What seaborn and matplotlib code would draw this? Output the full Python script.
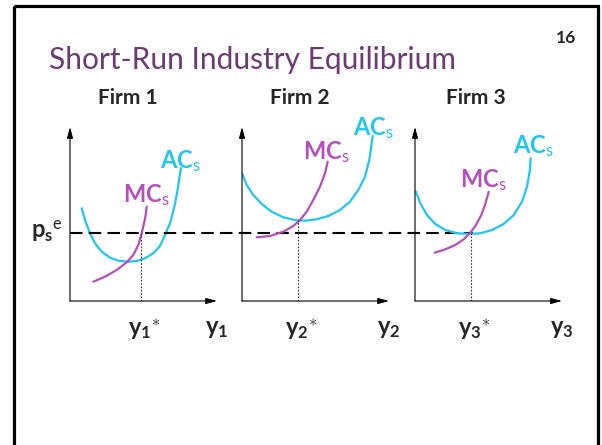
import numpy as np
import pandas as pd
import matplotlib
matplotlib.use("Agg")
import matplotlib.pyplot as plt
import seaborn as sns
from matplotlib.patches import Rectangle

# ---------------- data (local panel units: quantity, price) ----------------
firms = ["Firm 1", "Firm 2", "Firm 3"]
qty_labels = [r"$\mathbf{y}_\mathbf{1}{}^{\ast}$", r"$\mathbf{y}_\mathbf{2}{}^{\ast}$",
              r"$\mathbf{y}_\mathbf{3}{}^{\ast}$"]
axis_labels = [r"$\mathbf{y}_\mathbf{1}$", r"$\mathbf{y}_\mathbf{2}$", r"$\mathbf{y}_\mathbf{3}$"]

ac1_q = [11.7, 15, 20, 25, 31.7, 40, 48.3, 58.3, 66.7, 75, 83.3, 90, 95, 100, 104, 107.3, 109.3, 111]
ac1_p = [92.7, 81, 67.7, 57.7, 49.3, 43.3, 40.3, 39.3, 40, 42.7, 47.7, 55, 66, 77.7, 92.7, 109.3, 122.7, 133]
mc1_q = [23.3, 35, 46.7, 56.7, 63.3, 68.3, 71.7, 74, 75.7, 76.7]
mc1_p = [19.3, 24.3, 31, 38.7, 46, 56, 67.7, 77.7, 86, 94.3]

ac2_q = [0, 4.7, 11.3, 19.7, 29.7, 41.3, 53, 63, 74.7, 86.3, 98, 108, 116.3, 123, 127.3, 129.7, 130.7]
ac2_p = [127.7, 116, 106, 97, 89.3, 83.7, 81, 80.3, 81.7, 85, 91, 99.3, 111, 124.3, 141, 157.7, 165]
mc2_q = [14.7, 28, 41.3, 51.3, 58, 64.7, 71.3, 78, 83, 85.7]
mc2_p = [63.7, 65, 69.3, 75, 81, 89.3, 101, 114.3, 127.7, 139.3]

ac3_q = [1, 5.3, 12, 20.3, 30.3, 42, 53.7, 65.3, 77, 88.7, 98.7, 107, 112, 114.7, 115.7]
ac3_p = [109.3, 97.7, 86, 77, 71, 67.7, 67, 67.7, 71, 77, 86, 99.3, 114.3, 129.3, 142.7]
mc3_q = [19.7, 30.3, 40.3, 48.7, 55.3, 61, 66.3, 70.3, 73.7]
mc3_p = [48.3, 51.7, 56, 61.7, 68.3, 76, 86, 97, 109.3]

price_eq = 68              # p_s^e
q_star = [70.7, 56.3, 56]  # y_i^*
dotted_top = [68, 81, 68]

AC_COLOR = "#1ec6f0"
MC_COLOR = "#b54fbd"
TITLE_COLOR = "#6b3a72"

# ---------------- style ----------------
sns.set_theme(style="white")
plt.rcParams["font.family"] = ["Lato", "DejaVu Sans"]
plt.rcParams["mathtext.fontset"] = "custom"
plt.rcParams["mathtext.rm"] = "Lato"
plt.rcParams["mathtext.it"] = "Lato:italic"
plt.rcParams["mathtext.bf"] = "Lato:bold"

W, H = 602, 445
fig = plt.figure(figsize=(W / 100, H / 100), dpi=100)
fig.patch.set_facecolor("white")

bg = fig.add_axes([0, 0, 1, 1])
bg.set_xlim(0, W)
bg.set_ylim(H, 0)
bg.axis("off")
bg.add_patch(Rectangle((14, 6), 584, 460, fill=False, lw=2.3, ec="black", clip_on=False))
bg.text(49, 69, "Short-Run Industry Equilibrium", fontsize=21.5, fontweight="normal",
        color=TITLE_COLOR, ha="left", va="baseline")
bg.text(566, 43, "16", fontsize=12.5, fontweight="bold", ha="center", va="baseline")

origins = [70, 242, 415]
firm_centers = [128, 300, 476]
for name, cx in zip(firms, firm_centers):
    bg.text(cx, 104, name, fontsize=15, fontweight="bold", ha="center", va="baseline")

curves = [
    (ac1_q, ac1_p, mc1_q, mc1_p),
    (ac2_q, ac2_p, mc2_q, mc2_p),
    (ac3_q, ac3_p, mc3_q, mc3_p),
]
ac_label_pos = [(90, 140), (111, 173), (98, 155)]
mc_label_pos = [(53, 106), (61, 149), (45, 121)]

PW, PH = 150, 174
axes = []
for i, ox in enumerate(origins):
    ax = fig.add_axes([ox / W, (H - 301) / H, PW / W, PH / H])
    ax.set_xlim(0, PW)
    ax.set_ylim(0, PH)
    ax.axis("off")
    axes.append(ax)

    ap = dict(arrowstyle="-|>,head_length=0.55,head_width=0.15", lw=0.8,
              color="black", shrinkA=0, shrinkB=0)
    ax.annotate("", xy=(0, PH), xytext=(0, 0), arrowprops=ap, annotation_clip=False)
    ax.annotate("", xy=(147, 0), xytext=(0, 0), arrowprops=ap, annotation_clip=False)

    acq, acp, mcq, mcp = curves[i]
    sns.lineplot(x=acq, y=acp, sort=False, ax=ax, color=AC_COLOR, lw=1.6, legend=False)
    sns.lineplot(x=mcq, y=mcp, sort=False, ax=ax, color=MC_COLOR, lw=1.6, legend=False)

    ax.plot([q_star[i], q_star[i]], [0, dotted_top[i]], color="#333333",
            lw=0.8, ls=(0, (1.5, 1.5)))

    ax.text(*ac_label_pos[i], r"$\mathbf{AC}_\mathrm{s}$", color=AC_COLOR, fontsize=17,
            ha="left", va="center")
    ax.text(*mc_label_pos[i], r"$\mathbf{MC}_\mathrm{s}$", color=MC_COLOR, fontsize=17,
            ha="left", va="center")
    ax.text(q_star[i] + 3, -29, qty_labels[i], fontsize=17, ha="center", va="center",
            clip_on=False)
    ax.text(147, -29, axis_labels[i], fontsize=17, ha="center", va="center",
            clip_on=False)

axes[0].plot([0, 403], [price_eq, price_eq], color="black", lw=1.5,
             ls=(0, (6, 3)), clip_on=False)
axes[0].text(-7, price_eq + 2, r"$\mathbf{p}_\mathbf{s}{}^\mathrm{e}$", fontsize=17,
             ha="right", va="center", clip_on=False)

fig.savefig("out.png", dpi=100)
